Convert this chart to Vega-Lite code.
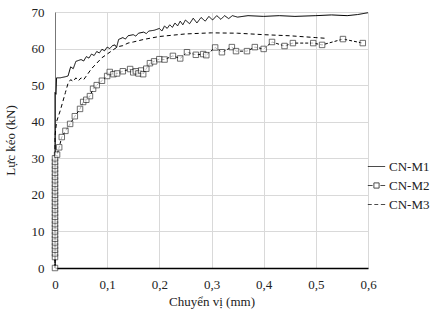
{
  "$schema": "https://vega.github.io/schema/vega-lite/v6.json",
  "padding": {"left": 4, "top": 6, "right": 0, "bottom": 5},
  "width": 313,
  "height": 256,
  "background": "white",
  "config": {"view": {"stroke": null}, "font": "Liberation Serif, Times New Roman, serif"},
  "datasets": {
    "curves": [
      {"series": "CN-M1", "x": 0, "y": 0}, {"series": "CN-M1", "x": 0, "y": 30}, {"series": "CN-M1", "x": 0, "y": 48}, {"series": "CN-M1", "x": 0.002, "y": 47.5}, {"series": "CN-M1", "x": 0.003, "y": 52},
      {"series": "CN-M1", "x": 0.01, "y": 52}, {"series": "CN-M1", "x": 0.02, "y": 52.3}, {"series": "CN-M1", "x": 0.025, "y": 52.5}, {"series": "CN-M1", "x": 0.03, "y": 55}, {"series": "CN-M1", "x": 0.035, "y": 54.5},
      {"series": "CN-M1", "x": 0.04, "y": 56.5}, {"series": "CN-M1", "x": 0.05, "y": 57}, {"series": "CN-M1", "x": 0.055, "y": 56.6}, {"series": "CN-M1", "x": 0.06, "y": 57.8}, {"series": "CN-M1", "x": 0.065, "y": 57.4}, {"series": "CN-M1", "x": 0.07, "y": 58.5}, {"series": "CN-M1", "x": 0.075, "y": 58.1}, {"series": "CN-M1", "x": 0.08, "y": 59.2},
      {"series": "CN-M1", "x": 0.085, "y": 58.8}, {"series": "CN-M1", "x": 0.09, "y": 59.8}, {"series": "CN-M1", "x": 0.095, "y": 59.4}, {"series": "CN-M1", "x": 0.1, "y": 60.4}, {"series": "CN-M1", "x": 0.105, "y": 60}, {"series": "CN-M1", "x": 0.11, "y": 60.8}, {"series": "CN-M1", "x": 0.115, "y": 61}, {"series": "CN-M1", "x": 0.118, "y": 60.3},
      {"series": "CN-M1", "x": 0.122, "y": 62.5}, {"series": "CN-M1", "x": 0.13, "y": 63}, {"series": "CN-M1", "x": 0.135, "y": 62.6}, {"series": "CN-M1", "x": 0.14, "y": 63.5}, {"series": "CN-M1", "x": 0.15, "y": 63.8}, {"series": "CN-M1", "x": 0.155, "y": 63.4}, {"series": "CN-M1", "x": 0.16, "y": 64.2},
      {"series": "CN-M1", "x": 0.17, "y": 64.5}, {"series": "CN-M1", "x": 0.175, "y": 64.1}, {"series": "CN-M1", "x": 0.18, "y": 64.8}, {"series": "CN-M1", "x": 0.19, "y": 65}, {"series": "CN-M1", "x": 0.2, "y": 65.5}, {"series": "CN-M1", "x": 0.205, "y": 64.8},
      {"series": "CN-M1", "x": 0.21, "y": 66.2}, {"series": "CN-M1", "x": 0.215, "y": 65.5}, {"series": "CN-M1", "x": 0.22, "y": 66.5}, {"series": "CN-M1", "x": 0.225, "y": 65.8}, {"series": "CN-M1", "x": 0.23, "y": 67},
      {"series": "CN-M1", "x": 0.235, "y": 66.2}, {"series": "CN-M1", "x": 0.24, "y": 67.5}, {"series": "CN-M1", "x": 0.245, "y": 66.5}, {"series": "CN-M1", "x": 0.25, "y": 67.8}, {"series": "CN-M1", "x": 0.258, "y": 66.8},
      {"series": "CN-M1", "x": 0.265, "y": 68.3}, {"series": "CN-M1", "x": 0.272, "y": 67}, {"series": "CN-M1", "x": 0.28, "y": 68.5}, {"series": "CN-M1", "x": 0.288, "y": 67.5}, {"series": "CN-M1", "x": 0.295, "y": 68.8},
      {"series": "CN-M1", "x": 0.302, "y": 67.8}, {"series": "CN-M1", "x": 0.31, "y": 69}, {"series": "CN-M1", "x": 0.318, "y": 68}, {"series": "CN-M1", "x": 0.325, "y": 69}, {"series": "CN-M1", "x": 0.333, "y": 68.2},
      {"series": "CN-M1", "x": 0.34, "y": 69}, {"series": "CN-M1", "x": 0.35, "y": 68.6}, {"series": "CN-M1", "x": 0.37, "y": 69}, {"series": "CN-M1", "x": 0.4, "y": 68.8}, {"series": "CN-M1", "x": 0.43, "y": 69},
      {"series": "CN-M1", "x": 0.46, "y": 68.8}, {"series": "CN-M1", "x": 0.5, "y": 69}, {"series": "CN-M1", "x": 0.53, "y": 69.2}, {"series": "CN-M1", "x": 0.56, "y": 69}, {"series": "CN-M1", "x": 0.58, "y": 69.3}, {"series": "CN-M1", "x": 0.6, "y": 69.8},

      {"series": "CN-M2", "x": 0, "y": 0}, {"series": "CN-M2", "x": 0, "y": 3}, {"series": "CN-M2", "x": 0, "y": 4}, {"series": "CN-M2", "x": 0, "y": 5}, {"series": "CN-M2", "x": 0, "y": 6},
      {"series": "CN-M2", "x": 0, "y": 7}, {"series": "CN-M2", "x": 0, "y": 8}, {"series": "CN-M2", "x": 0, "y": 9}, {"series": "CN-M2", "x": 0, "y": 10}, {"series": "CN-M2", "x": 0, "y": 11},
      {"series": "CN-M2", "x": 0, "y": 12}, {"series": "CN-M2", "x": 0, "y": 13}, {"series": "CN-M2", "x": 0, "y": 14}, {"series": "CN-M2", "x": 0, "y": 15}, {"series": "CN-M2", "x": 0, "y": 16},
      {"series": "CN-M2", "x": 0, "y": 17}, {"series": "CN-M2", "x": 0, "y": 18}, {"series": "CN-M2", "x": 0, "y": 19}, {"series": "CN-M2", "x": 0, "y": 20}, {"series": "CN-M2", "x": 0, "y": 21},
      {"series": "CN-M2", "x": 0, "y": 22}, {"series": "CN-M2", "x": 0, "y": 23}, {"series": "CN-M2", "x": 0, "y": 24}, {"series": "CN-M2", "x": 0, "y": 25}, {"series": "CN-M2", "x": 0, "y": 26},
      {"series": "CN-M2", "x": 0, "y": 27}, {"series": "CN-M2", "x": 0, "y": 28}, {"series": "CN-M2", "x": 0, "y": 29}, {"series": "CN-M2", "x": 0, "y": 30},
      {"series": "CN-M2", "x": 0.004, "y": 31}, {"series": "CN-M2", "x": 0.008, "y": 33}, {"series": "CN-M2", "x": 0.013, "y": 35.8}, {"series": "CN-M2", "x": 0.02, "y": 37.5}, {"series": "CN-M2", "x": 0.029, "y": 39.4},
      {"series": "CN-M2", "x": 0.038, "y": 41.5}, {"series": "CN-M2", "x": 0.048, "y": 43.5}, {"series": "CN-M2", "x": 0.054, "y": 45.4}, {"series": "CN-M2", "x": 0.06, "y": 46}, {"series": "CN-M2", "x": 0.067, "y": 47},
      {"series": "CN-M2", "x": 0.073, "y": 49}, {"series": "CN-M2", "x": 0.08, "y": 50}, {"series": "CN-M2", "x": 0.09, "y": 51.2}, {"series": "CN-M2", "x": 0.1, "y": 52.5}, {"series": "CN-M2", "x": 0.105, "y": 53.6},
      {"series": "CN-M2", "x": 0.112, "y": 53}, {"series": "CN-M2", "x": 0.119, "y": 53.2}, {"series": "CN-M2", "x": 0.13, "y": 53.8}, {"series": "CN-M2", "x": 0.144, "y": 54.4}, {"series": "CN-M2", "x": 0.15, "y": 53.5},
      {"series": "CN-M2", "x": 0.155, "y": 53.8}, {"series": "CN-M2", "x": 0.16, "y": 53.2}, {"series": "CN-M2", "x": 0.165, "y": 54}, {"series": "CN-M2", "x": 0.169, "y": 53}, {"series": "CN-M2", "x": 0.175, "y": 54.5},
      {"series": "CN-M2", "x": 0.182, "y": 56}, {"series": "CN-M2", "x": 0.19, "y": 56.5}, {"series": "CN-M2", "x": 0.2, "y": 57.1}, {"series": "CN-M2", "x": 0.21, "y": 57}, {"series": "CN-M2", "x": 0.226, "y": 58},
      {"series": "CN-M2", "x": 0.24, "y": 57.3}, {"series": "CN-M2", "x": 0.253, "y": 59}, {"series": "CN-M2", "x": 0.27, "y": 58.3}, {"series": "CN-M2", "x": 0.284, "y": 58.5}, {"series": "CN-M2", "x": 0.29, "y": 58.2},
      {"series": "CN-M2", "x": 0.307, "y": 60.3}, {"series": "CN-M2", "x": 0.32, "y": 59}, {"series": "CN-M2", "x": 0.339, "y": 60.4}, {"series": "CN-M2", "x": 0.347, "y": 59.3}, {"series": "CN-M2", "x": 0.368, "y": 59.3},
      {"series": "CN-M2", "x": 0.383, "y": 60.4}, {"series": "CN-M2", "x": 0.4, "y": 59.9}, {"series": "CN-M2", "x": 0.416, "y": 61.8}, {"series": "CN-M2", "x": 0.44, "y": 60.7}, {"series": "CN-M2", "x": 0.456, "y": 61.5},
      {"series": "CN-M2", "x": 0.495, "y": 61.5}, {"series": "CN-M2", "x": 0.512, "y": 61}, {"series": "CN-M2", "x": 0.552, "y": 62.6}, {"series": "CN-M2", "x": 0.59, "y": 61.5},

      {"series": "CN-M3", "x": 0, "y": 0}, {"series": "CN-M3", "x": 0, "y": 36}, {"series": "CN-M3", "x": 0.003, "y": 40}, {"series": "CN-M3", "x": 0.01, "y": 43}, {"series": "CN-M3", "x": 0.02, "y": 48},
      {"series": "CN-M3", "x": 0.025, "y": 50.5}, {"series": "CN-M3", "x": 0.03, "y": 51.5}, {"series": "CN-M3", "x": 0.035, "y": 51}, {"series": "CN-M3", "x": 0.04, "y": 52}, {"series": "CN-M3", "x": 0.045, "y": 51.2},
      {"series": "CN-M3", "x": 0.05, "y": 52}, {"series": "CN-M3", "x": 0.055, "y": 51.5}, {"series": "CN-M3", "x": 0.06, "y": 52.5}, {"series": "CN-M3", "x": 0.07, "y": 54.5}, {"series": "CN-M3", "x": 0.08, "y": 56},
      {"series": "CN-M3", "x": 0.09, "y": 57.5}, {"series": "CN-M3", "x": 0.1, "y": 58.5}, {"series": "CN-M3", "x": 0.11, "y": 59.5}, {"series": "CN-M3", "x": 0.12, "y": 60.5}, {"series": "CN-M3", "x": 0.13, "y": 60.8},
      {"series": "CN-M3", "x": 0.14, "y": 61.5}, {"series": "CN-M3", "x": 0.15, "y": 61.8}, {"series": "CN-M3", "x": 0.17, "y": 62.5}, {"series": "CN-M3", "x": 0.2, "y": 63.3}, {"series": "CN-M3", "x": 0.25, "y": 64},
      {"series": "CN-M3", "x": 0.3, "y": 64.3}, {"series": "CN-M3", "x": 0.35, "y": 64.2}, {"series": "CN-M3", "x": 0.4, "y": 63.8}, {"series": "CN-M3", "x": 0.45, "y": 63.5}, {"series": "CN-M3", "x": 0.5, "y": 63}, {"series": "CN-M3", "x": 0.52, "y": 62.8}
    ]
  },
  "data": {"name": "curves"},
  "encoding": {
    "x": {"field": "x", "type": "quantitative", "scale": {"domain": [0, 0.6], "nice": false},
      "axis": {"title": "Chuyển vị (mm)", "values": [0, 0.1, 0.2, 0.3, 0.4, 0.5, 0.6], "labelExpr": "datum.value == 0 ? '0' : replace(format(datum.value, '.1f'), '.', ',')", "labelPadding": 10, "titlePadding": 4, "domainColor": "black", "domainWidth": 1.5, "grid": true, "gridColor": "#d9d9d9", "ticks": false, "labelFlush": false, "labelOverlap": false, "labelFont": "Liberation Serif, Times New Roman, serif", "titleFont": "Liberation Serif, Times New Roman, serif", "labelFontSize": 13, "titleFontSize": 13, "titleFontWeight": "normal", "labelColor": "#222", "titleColor": "#222"}},
    "y": {"field": "y", "type": "quantitative", "scale": {"domain": [0, 70], "nice": false},
      "axis": {"title": "Lực kéo (kN)", "values": [0, 10, 20, 30, 40, 50, 60, 70], "format": "d", "labelPadding": 11, "titlePadding": 14, "domainColor": "#777", "grid": true, "gridColor": "#d9d9d9", "ticks": false, "labelOverlap": false, "labelFont": "Liberation Serif, Times New Roman, serif", "titleFont": "Liberation Serif, Times New Roman, serif", "labelFontSize": 13, "titleFontSize": 13, "titleFontWeight": "normal", "labelColor": "#222", "titleColor": "#222"}}
  },
  "layer": [
    {
      "mark": {"type": "line", "color": "black", "strokeWidth": 1},
      "encoding": {
        "strokeDash": {"field": "series", "type": "nominal", "scale": {"range": [[1, 0], [3, 2], [4, 3]]}, "legend": null}
      }
    },
    {
      "transform": [{"filter": "datum.series == 'CN-M2'"}],
      "mark": {"type": "point", "shape": "square", "filled": true, "fill": "white", "stroke": "black", "strokeWidth": 0.8, "size": 30}
    },
    {
      "transform": [{"filter": "datum.x > 5"}],
      "mark": {"type": "point", "filled": false, "color": "black"},
      "encoding": {
        "shape": {"field": "series", "type": "nominal",
          "scale": {"domain": ["CN-M1", "CN-M2", "CN-M3"], "range": ["M-1,0H1", "M-1,0H-0.45M-0.3,-0.3H0.3V0.3H-0.3ZM0.45,0H1", "M-1,0H-0.55M-0.25,0H0.2M0.5,0H1"]},
          "legend": {"title": null, "orient": "none", "legendX": 312, "legendY": 145, "padding": 0, "symbolSize": 300, "symbolStrokeColor": "black", "symbolFillColor": "white", "symbolStrokeWidth": 1, "labelFont": "Liberation Serif, Times New Roman, serif", "labelFontSize": 13, "labelColor": "#222", "labelOffset": 3, "rowPadding": 2}}
      }
    }
  ]
}
